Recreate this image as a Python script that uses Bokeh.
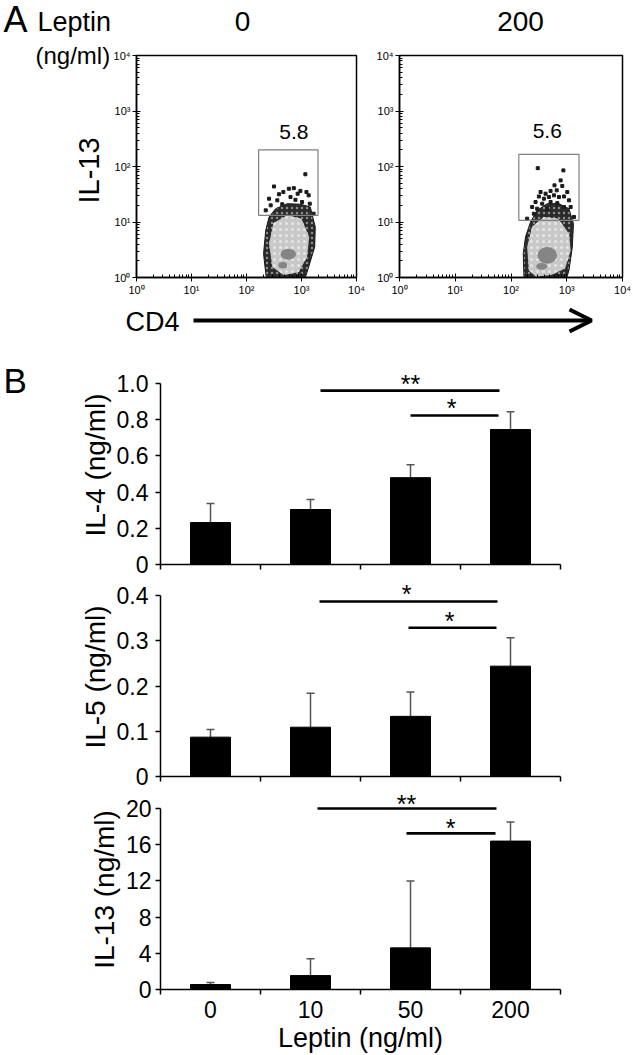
import numpy as np
from bokeh.plotting import figure
from bokeh.models import (ColumnDataSource, FixedTicker, Arrow, OpenHead,
                          Whisker, TeeHead, Range1d)
from bokeh.layouts import column, row
from bokeh.embed import file_html
from bokeh.resources import INLINE
from bokeh.core.properties import value

FONT = "Liberation Sans"

# ---------------- Panel A data (log10 fluorescence units) ----------------
flow_titles = ["0", "200"]
gate_pct = ["5.8", "5.6"]
gate_pct_x = [2.86, 2.65]
gate_pct_y = [2.62, 2.64]
gate_left = [2.22, 2.14]
gate_right = [3.30, 3.22]
gate_bottom = [1.12, 1.03]
gate_top = [2.30, 2.22]

cloud1_outer_x = [2.35, 2.31, 2.35, 2.41, 2.53, 2.74, 2.98, 3.16, 3.25, 3.24, 3.13, 3.07, 3.05, 2.38]
cloud1_outer_y = [0.07, 0.43, 0.85, 1.09, 1.24, 1.33, 1.32, 1.27, 0.91, 0.55, 0.19, 0.00, -0.10, -0.10]
cloud1_inner_x = [2.47, 2.41, 2.49, 2.74, 3.00, 3.14, 3.10, 2.95, 2.68]
cloud1_inner_y = [0.19, 0.61, 0.98, 1.12, 1.06, 0.73, 0.37, 0.10, 0.04]
cloud1_core = dict(x=[2.76, 2.66], y=[0.42, 0.22], w=[0.28, 0.16], h=[0.20, 0.12])
dots1_x = [3.07, 2.50, 2.41, 2.59, 2.67, 2.77, 2.86, 2.93, 2.98, 3.09, 3.13, 2.80, 2.89, 2.56,
           3.15, 2.44, 2.65, 3.01, 3.22, 2.35]
dots1_y = [1.86, 1.64, 1.42, 1.50, 1.54, 1.60, 1.61, 1.51, 1.56, 1.54, 1.48, 1.45, 1.40, 1.39,
           1.33, 1.30, 1.32, 1.36, 1.15, 1.21]

cloud2_outer_x = [2.23, 2.22, 2.26, 2.35, 2.47, 2.65, 2.86, 3.04, 3.12, 3.10, 3.04, 3.00, 3.00, 2.24]
cloud2_outer_y = [0.07, 0.43, 0.73, 1.00, 1.21, 1.33, 1.33, 1.24, 0.97, 0.55, 0.13, 0.00, -0.10, -0.10]
cloud2_inner_x = [2.32, 2.29, 2.38, 2.59, 2.85, 3.04, 3.07, 2.97, 2.71, 2.44]
cloud2_inner_y = [0.13, 0.55, 0.92, 1.09, 1.06, 0.79, 0.49, 0.16, 0.04, 0.02]
cloud2_core = dict(x=[2.65, 2.55], y=[0.40, 0.20], w=[0.35, 0.20], h=[0.30, 0.12])
dots2_x = [2.48, 2.94, 2.89, 2.78, 2.92, 2.53, 2.62, 2.71, 2.82, 3.01, 2.50, 2.59, 2.68, 2.77,
           2.86, 2.95, 2.44, 2.56, 2.71, 2.83, 3.04, 2.38, 2.47, 2.65, 2.95, 3.07, 2.29, 2.41, 3.13]
dots2_y = [1.97, 1.93, 1.75, 1.66, 1.65, 1.54, 1.51, 1.56, 1.57, 1.54, 1.46, 1.42, 1.45, 1.48,
           1.45, 1.46, 1.36, 1.33, 1.36, 1.34, 1.39, 1.27, 1.24, 1.24, 1.27, 1.27, 1.06, 1.15, 1.09]

decade_labels = ["10⁰", "10¹", "10²", "10³", "10⁴"]

# ---------------- Panel B data ----------------
doses = ["0", "10", "50", "200"]
il4_mean = [0.232, 0.304, 0.480, 0.746]
il4_err = [0.105, 0.055, 0.072, 0.099]
il5_mean = [0.087, 0.109, 0.133, 0.244]
il5_err = [0.017, 0.075, 0.054, 0.063]
il13_mean = [0.55, 1.54, 4.6, 16.4]
il13_err = [0.22, 1.86, 7.4, 2.1]

il4_ticks = [0, 0.2, 0.4, 0.6, 0.8, 1.0]
il5_ticks = [0, 0.1, 0.2, 0.3, 0.4]
il13_ticks = [0, 4, 8, 12, 16, 20]

# significance bars: start, end (category units), height, label, label x
il4_sig = dict(x0=[1.60, 2.50], x1=[3.39, 3.38], y=[0.961, 0.824], t=["**", "*"], tx=[2.50, 2.91])
il5_sig = dict(x0=[1.59, 2.48], x1=[3.37, 3.36], y=[0.387, 0.329], t=["*", "*"], tx=[2.46, 2.89])
il13_sig = dict(x0=[1.57, 2.46], x1=[3.36, 3.35], y=[20.0, 17.25], t=["**", "*"], tx=[2.46, 2.90])


def base_fig(**kw):
    p = figure(output_backend="svg", toolbar_location=None, frame_align=False, **kw)
    p.xgrid.visible = False
    p.ygrid.visible = False
    p.background_fill_color = "white"
    p.border_fill_color = "white"
    return p


def text_fig(width, height, x0, x1, y_top, y_bottom):
    # a blank canvas whose coordinates are page pixels, used only for free text
    p = base_fig(width=width, height=height, x_range=Range1d(x0, x1),
                 y_range=Range1d(y_bottom, y_top), min_border=0)
    p.outline_line_color = None
    p.xaxis.visible = False
    p.yaxis.visible = False
    return p


def put_text(p, x, y, txt, size, align="left", angle=0.0):
    p.text(x=[x], y=[y], text=[txt], text_font=value(FONT), text_font_size=size,
           text_align=align, text_baseline="middle", text_color="black", angle=angle)


# header
header = text_fig(633, 40, 0, 633, 0, 40)
put_text(header, 3, 19, "A", "36px")
put_text(header, 37, 21, "Leptin", "27px")
put_text(header, 242, 21, flow_titles[0], "28px", "center")
put_text(header, 520, 21, flow_titles[1], "28px", "center")

# left text column of panel A
left_a = text_fig(109, 260, 0, 109, 40, 300)
put_text(left_a, 35, 55, "(ng/ml)", "24px")
put_text(left_a, 88, 170, "IL-13", "29px", "center", angle=np.pi / 2)


def flow_fig(width, bl, br, outer_x, outer_y, inner_x, inner_y, core, dx, dy, k):
    p = base_fig(width=width, height=260, x_range=Range1d(0, 4), y_range=Range1d(0, 4),
                 min_border_left=bl, min_border_right=br, min_border_top=15, min_border_bottom=23)
    p.outline_line_color = "black"
    p.outline_line_width = 1.5
    minor = [float(d + np.log10(m)) for d in range(4) for m in range(2, 10)]
    for ax in (p.xaxis[0], p.yaxis[0]):
        ax.ticker = FixedTicker(ticks=[0, 1, 2, 3, 4], minor_ticks=minor)
        ax.major_label_overrides = {i: decade_labels[i] for i in range(5)}
        ax.major_label_text_font = FONT
        ax.major_label_text_font_size = "11px"
        ax.major_label_text_color = "black"
        ax.major_label_standoff = 2
        ax.axis_line_color = "black"
        ax.axis_line_width = 1.5
        ax.major_tick_in = 4
        ax.major_tick_out = 4
        ax.minor_tick_in = 3
        ax.minor_tick_out = 0
        ax.major_tick_line_color = "black"
        ax.minor_tick_line_color = "black"
    p.patch(outer_x, outer_y, fill_color="#2a2a2a", line_color="#1a1a1a", line_width=1,
            hatch_pattern="dot", hatch_color="#8c8c8c", hatch_scale=5, hatch_weight=1)
    p.patch(inner_x, inner_y, fill_color="#c8c8c8", line_color=None,
            hatch_pattern="dot", hatch_color="#e6e6e6", hatch_scale=6, hatch_weight=1)
    p.ellipse(x=core["x"], y=core["y"], width=core["w"], height=core["h"],
              fill_color="#858585", line_color=None)
    p.scatter(dx, dy, marker="square", size=3, color="#1a1a1a")
    p.quad(left=[gate_left[k]], right=[gate_right[k]], bottom=[gate_bottom[k]], top=[gate_top[k]],
           fill_color=None, line_color="#808080", line_width=1.2)
    p.text(x=[gate_pct_x[k]], y=[gate_pct_y[k]], text=[gate_pct[k]], text_font=value(FONT),
           text_font_size="21px", text_align="center", text_baseline="middle", text_color="black")
    return p


fa1 = flow_fig(257, 27, 10, cloud1_outer_x, cloud1_outer_y, cloud1_inner_x, cloud1_inner_y,
               cloud1_core, dots1_x, dots1_y, 0)
fa2 = flow_fig(267, 33, 11, cloud2_outer_x, cloud2_outer_y, cloud2_inner_x, cloud2_inner_y,
               cloud2_core, dots2_x, dots2_y, 1)

# strip with CD4 arrow
strip = text_fig(633, 40, 0, 633, 300, 340)
put_text(strip, 125, 321, "CD4", "27px")
strip.add_layout(Arrow(end=OpenHead(size=22, line_width=4, line_color="black"),
                       x_start=193, y_start=320, x_end=591, y_end=320,
                       line_width=4, line_color="black"))


def bar_fig(width, height, bl, bt, bb, y_end, ticks, tick_labels, mean, err, sig, ylabel,
            last=False, ystandoff=7, star_offset=-7):
    p = base_fig(width=width, height=height, x_range=Range1d(0, len(doses)),
                 y_range=Range1d(0, y_end), min_border_left=bl, min_border_right=73,
                 min_border_top=bt, min_border_bottom=bb)
    p.outline_line_color = None
    centers = [i + 0.5 for i in range(len(doses))]
    src = ColumnDataSource(dict(x=centers, top=mean, hi=[m + e for m, e in zip(mean, err)]))
    p.vbar(x="x", top="top", bottom=0, width=0.4, source=src, fill_color="black", line_color="black")
    p.add_layout(Whisker(source=src, base="x", lower="top", upper="hi", dimension="height",
                         line_color="#555555", line_width=1.5, lower_head=None,
                         upper_head=TeeHead(size=8, line_color="#555555", line_width=1.5)))
    p.segment(x0=sig["x0"], y0=sig["y"], x1=sig["x1"], y1=sig["y"], line_color="black", line_width=2.6)
    p.text(x=sig["tx"], y=sig["y"], text=sig["t"], text_font=value(FONT), text_font_size="25px",
           text_align="center", text_baseline="middle", y_offset=star_offset, text_color="black")
    ya = p.yaxis[0]
    ya.ticker = FixedTicker(ticks=ticks, minor_ticks=[])
    ya.major_label_overrides = {t: l for t, l in zip(ticks, tick_labels)}
    ya.bounds = (0, ticks[-1])
    ya.major_label_text_font = FONT
    ya.major_label_text_font_size = "23px"
    ya.major_label_text_color = "black"
    ya.major_label_standoff = ystandoff
    ya.major_tick_out = 5
    ya.major_tick_in = 0
    ya.axis_label = ylabel
    ya.axis_label_text_font = FONT
    ya.axis_label_text_font_size = "28px"
    ya.axis_label_text_font_style = "normal"
    ya.axis_label_text_color = "black"
    ya.axis_label_standoff = 3
    xa = p.xaxis[0]
    bounds = list(range(len(doses) + 1))
    if last:
        xa.ticker = FixedTicker(ticks=centers, minor_ticks=bounds)
        xa.major_label_overrides = {c: d for c, d in zip(centers, doses)}
        xa.major_label_text_font = FONT
        xa.major_label_text_font_size = "23px"
        xa.major_label_text_color = "black"
        xa.major_label_standoff = 6
        xa.axis_label = "Leptin (ng/ml)"
        xa.axis_label_text_font = FONT
        xa.axis_label_text_font_size = "27px"
        xa.axis_label_text_font_style = "normal"
        xa.axis_label_text_color = "black"
        xa.axis_label_standoff = 2
    else:
        xa.ticker = FixedTicker(ticks=[], minor_ticks=bounds)
        xa.major_label_standoff = 0
    xa.major_tick_out = 0
    xa.major_tick_in = 0
    xa.minor_tick_out = 5
    xa.minor_tick_in = 0
    for ax in (xa, ya):
        ax.axis_line_color = "black"
        ax.axis_line_width = 1.5
        ax.major_tick_line_color = "black"
        ax.minor_tick_line_color = "black"
        ax.major_tick_line_width = 1.5
        ax.minor_tick_line_width = 1.5
    return p


b_label = base_fig(width=40, height=237, x_range=Range1d(0, 40), y_range=Range1d(564, 365),
                   min_border_left=0, min_border_right=0, min_border_top=25, min_border_bottom=13)
b_label.outline_line_color = None
b_label.xaxis.visible = False
b_label.yaxis.visible = False
put_text(b_label, 3, 380, "B", "35px")

b1 = bar_fig(593, 237, 120, 25, 13, 1.1, il4_ticks, ["0", "0.2", "0.4", "0.6", "0.8", "1.0"],
             il4_mean, il4_err, il4_sig, "IL-4 (ng/ml)")
b2 = bar_fig(633, 212, 160, 0, 13, 0.44, il5_ticks, ["0", "0.1", "0.2", "0.3", "0.4"],
             il5_mean, il5_err, il5_sig, "IL-5 (ng/ml)")
b3 = bar_fig(633, 266, 160, 0, 65, 22.1, il13_ticks, [str(t) for t in il13_ticks],
             il13_mean, il13_err, il13_sig, "IL-13 (ng/ml)", last=True, ystandoff=4,
             star_offset=-5)

layout = column(header, row(left_a, fa1, fa2), strip, row(b_label, b1), b2, b3)
open("out.html", "w").write(file_html(layout, INLINE))
